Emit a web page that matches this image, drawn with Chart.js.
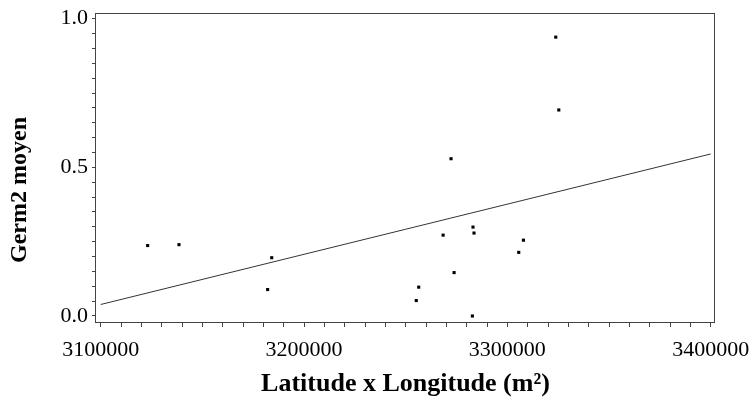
<!DOCTYPE html>
<html><head><meta charset="utf-8">
<script src="https://cdn.jsdelivr.net/npm/chart.js@4.4.1/dist/chart.umd.min.js"></script>
<style>html,body{margin:0;padding:0;background:#fff}#wrap{width:752px;height:400px}</style>
</head><body><div id="wrap"><canvas id="c" width="752" height="400"></canvas></div>
<script>
// ---- data ----
const latLong = [3123100, 3138500, 3184100, 3182100, 3255200, 3256400, 3268400, 3272300,
                 3273800, 3282800, 3283100, 3283600, 3305600, 3307900, 3323800, 3325300];
const germ2   = [0.237, 0.240, 0.196, 0.089, 0.052, 0.097, 0.272, 0.529,
                 0.146, 0.000, 0.299, 0.279, 0.214, 0.255, 0.938, 0.693];
const fitX = [3100000, 3400000];
const fitY = [0.0387, 0.545];
const xMajorTicks = [3100000, 3200000, 3300000, 3400000];
const yMajorTicks = [0.0, 0.5, 1.0];
const xTitle = 'Latitude x Longitude (m²)';
const yTitle = 'Germ2 moyen';

// ---- minor tick lists ----
const xTickList = [];
for (let i = 0; i <= 30; i++) xTickList.push(3100000 + i * 10000);
const yTickList = [];
for (let i = 0; i <= 20; i++) yTickList.push(Math.round(i * 5) / 100);

const tickFont = {family: '"Liberation Serif", "Times New Roman", serif', size: 22};
const titleFont = {family: '"Liberation Serif", "Times New Roman", serif', size: 26, weight: 'bold'};

const framePlugin = {
  id: 'frame',
  afterDraw(chart) {
    const {ctx, chartArea: a} = chart;
    ctx.save();
    ctx.strokeStyle = '#444';
    ctx.lineWidth = 1;
    ctx.strokeRect(Math.round(a.left) - 0.5, Math.round(a.top) + 0.5,
                   Math.round(a.right - a.left), Math.round(a.bottom - a.top));
    // y axis title
    ctx.translate(20, a.bottom - 132);
    ctx.rotate(-Math.PI / 2);
    ctx.fillStyle = '#000';
    ctx.font = 'bold 24px "Liberation Serif", "Times New Roman", serif';
    ctx.textAlign = 'center';
    ctx.textBaseline = 'middle';
    ctx.fillText(yTitle, 0, 0);
    ctx.restore();
  }
};

new Chart(document.getElementById('c'), {
  type: 'scatter',
  data: {
    datasets: [
      {
        label: 'Germ2',
        data: latLong.map((x, i) => ({x: x, y: germ2[i]})),
        pointStyle: 'rect',
        pointRadius: 2.2,
        pointBorderWidth: 0,
        backgroundColor: '#000',
        borderColor: '#000',
        showLine: false
      },
      {
        label: 'fit',
        type: 'line',
        data: fitX.map((x, i) => ({x: x, y: fitY[i]})),
        borderColor: '#333',
        borderWidth: 1,
        pointRadius: 0,
        fill: false
      }
    ]
  },
  options: {
    responsive: false,
    animation: false,
    devicePixelRatio: 1,
    layout: {padding: {top: 13, right: 37, left: 0, bottom: 0}},
    plugins: {legend: {display: false}, tooltip: {enabled: false}},
    scales: {
      x: {
        type: 'linear',
        min: 3097690,
        max: 3402115,
        afterBuildTicks: s => { s.ticks = xTickList.map(v => ({value: v})); },
        afterFit: s => { s.height = 78; s.paddingLeft = 0; s.paddingRight = 0; },
        ticks: {
          autoSkip: false, maxRotation: 0, padding: 10, color: '#000', font: tickFont,
          callback: v => xMajorTicks.includes(v) ? String(v) : ''
        },
        grid: {display: true, drawOnChartArea: false, drawTicks: true, tickLength: 5, color: '#444'},
        border: {display: false},
        title: {display: true, text: xTitle, color: '#000', font: titleFont, padding: {top: 0, bottom: 0}}
      },
      y: {
        type: 'linear',
        min: -0.0202,
        max: 1.0192,
        afterBuildTicks: s => { s.ticks = yTickList.map(v => ({value: v})); },
        afterFit: s => { s.width = 96; s.paddingTop = 0; s.paddingBottom = 0; },
        ticks: {
          autoSkip: false, padding: 4, color: '#000', font: tickFont,
          callback: v => yMajorTicks.some(m => Math.abs(m - v) < 1e-9) ? v.toFixed(1) : ''
        },
        grid: {display: true, drawOnChartArea: false, drawTicks: true, tickLength: 4, color: '#444'},
        border: {display: false}
      }
    }
  },
  plugins: [framePlugin]
});
</script>
</body></html>
